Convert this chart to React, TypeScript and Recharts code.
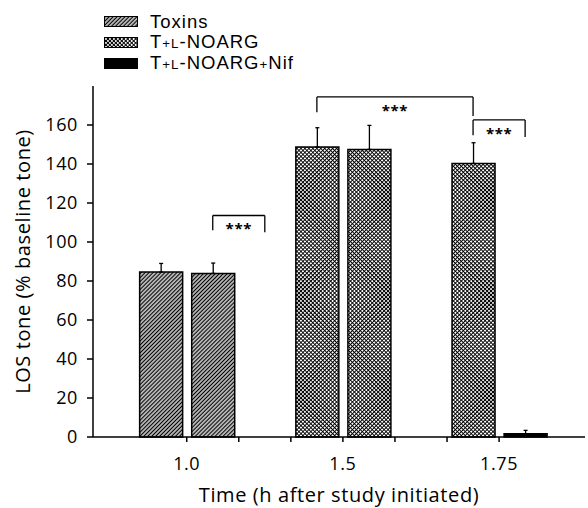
import { BarChart, Bar, XAxis, YAxis, ErrorBar, Cell, Legend, ReferenceLine, Label } from 'recharts'

// time points, and the slot boundary each label sits on
const timeLabels = ['1.0', '1.5', '1.75']
const timeTickSlot = [1, 4, 7]

// eight bar slots, two per time point plus empty gaps
const slotGroup = ['Toxins', 'Toxins', '', 'T+L-NOARG', 'T+L-NOARG', '', 'T+L-NOARG', 'T+L-NOARG+Nif']
const slotMean = [84.6, 83.9, null, 148.7, 147.5, null, 140.3, 1.7]
const slotSem = [4.4, 5.3, null, 9.9, 12.3, null, 10.6, 1.7]

const groups = ['Toxins', 'T+L-NOARG', 'T+L-NOARG+Nif']
const groupFill: Record<string, string> = {
  'Toxins': 'url(#hatch)',
  'T+L-NOARG': 'url(#cross)',
  'T+L-NOARG+Nif': '#000',
}

// significance brackets (slot indices, % tone)
const bracketFrom = [1, 3, 6]
const bracketTo = [2, 6, 7]
const bracketTop = [113.6, 174.4, 162.6]
const bracketLeftEnd = [106, 166.5, 154.8]
const bracketRightEnd = [105, 164.6, 153.9]

const yTicks = [0, 20, 40, 60, 80, 100, 120, 140, 160]

const data = slotMean.map((m, i) => ({
  slot: i + 0.5,
  mean: m,
  err: m == null ? null : [0, slotSem[i] as number],
  group: slotGroup[i],
}))

function GroupName({ name }: { name: string }) {
  const small = { fontSize: '0.72em' }
  if (name === 'Toxins') return <span>Toxins</span>
  if (name === 'T+L-NOARG') return <span>T<span style={small}>+L</span>-NOARG</span>
  return <span>T<span style={small}>+L</span>-NOARG<span style={small}>+</span>Nif</span>
}

function LegendBox() {
  return (
    <div style={{ fontFamily: '"Liberation Sans", Arial, sans-serif', fontSize: 18.5, letterSpacing: '1px', color: '#000', lineHeight: '21px' }}>
      {groups.map((g) => (
        <div key={g} style={{ display: 'flex', alignItems: 'center', height: 21 }}>
          <svg width={34} height={11} style={{ marginRight: 12 }}>
            <rect x={0.5} y={0.5} width={33} height={10} fill={groupFill[g]} stroke="#000" strokeWidth={1} />
          </svg>
          <GroupName name={g} />
        </div>
      ))}
    </div>
  )
}

export default function App() {
  const brackets = bracketFrom.map((f, i) => ({
    x1: f + 0.5,
    x2: bracketTo[i] + 0.5,
    top: bracketTop[i],
    l: bracketLeftEnd[i],
    r: bracketRightEnd[i],
  }))

  return (
    <div style={{ position: 'absolute', left: 0, top: 0, fontFamily: '"Open Sans", sans-serif', letterSpacing: '0.6px', background: '#fff' }}>
      <BarChart width={588} height={508} data={data} margin={{ top: 86, right: 3, bottom: 0, left: 0 }}>
        <defs>
          <pattern id="hatch" patternUnits="userSpaceOnUse" width={2.8} height={2.8} patternTransform="rotate(45)">
            <rect width={2.8} height={2.8} fill="#fff" />
            <line x1={1.4} y1={0} x2={1.4} y2={2.8} stroke="#000" strokeWidth={1.5} />
          </pattern>
          <pattern id="cross" patternUnits="userSpaceOnUse" width={2.8} height={2.8} patternTransform="rotate(45)">
            <rect width={2.8} height={2.8} fill="#fff" />
            <path d="M0,1.4 H2.8 M1.4,0 V2.8" stroke="#000" strokeWidth={0.95} />
          </pattern>
        </defs>
        <XAxis
          dataKey="slot"
          type="number"
          domain={[-0.8, 8.65]}
          allowDataOverflow
          ticks={[1, 2, 3, 4, 5, 6, 7]}
          interval={0}
          tickFormatter={(v: number) => {
            const k = timeTickSlot.indexOf(v)
            return k >= 0 ? timeLabels[k] : ''
          }}
          height={71}
          tickSize={5}
          tickMargin={15}
          stroke="#000"
          strokeWidth={1.5}
          tick={{ fill: '#000', fontSize: 18 }}
        >
          <Label value="Time (h after study initiated)" position="insideBottom" offset={6} fill="#000" fontSize={20} />
        </XAxis>
        <YAxis
          domain={[0, 180]}
          ticks={yTicks}
          interval={0}
          width={93}
          tickSize={6}
          tickMargin={9}
          stroke="#000"
          strokeWidth={1.5}
          tick={{ fill: '#000', fontSize: 18 }}
        >
          <Label
            content={({ viewBox }: any) => {
              const cx = viewBox.x + 22
              const cy = viewBox.y + viewBox.height / 2
              return (
                <text x={cx} y={cy} transform={`rotate(-90 ${cx} ${cy})`} textAnchor="middle" dominantBaseline="central" fontSize={20} fill="#000">
                  LOS tone (% baseline tone)
                </text>
              )
            }}
          />
        </YAxis>
        <Legend
          layout="vertical"
          align="center"
          verticalAlign="middle"
          wrapperStyle={{ left: 104, top: 11 }}
          content={() => <LegendBox />}
        />
        <Bar dataKey="mean" barSize={43} stroke="#000" strokeWidth={1.5} isAnimationActive={false}>
          {data.map((d, i) => (
            <Cell key={i} fill={groupFill[d.group] || 'none'} />
          ))}
          <ErrorBar dataKey="err" direction="y" width={2} stroke="#000" strokeWidth={1.3} isAnimationActive={false} />
        </Bar>
        {brackets.map((b, i) => (
          <ReferenceLine key={'l' + i} segment={[{ x: b.x1, y: b.l }, { x: b.x1, y: b.top }]} stroke="#000" strokeWidth={1.3} ifOverflow="visible" />
        ))}
        {brackets.map((b, i) => (
          <ReferenceLine
            key={'t' + i}
            segment={[{ x: b.x1, y: b.top }, { x: b.x2, y: b.top }]}
            stroke="#000"
            strokeWidth={1.3}
            ifOverflow="visible"
            label={{ value: '***', position: 'bottom', offset: 8, fontSize: 15, fontWeight: 'bold', fill: '#000' }}
          />
        ))}
        {brackets.map((b, i) => (
          <ReferenceLine key={'r' + i} segment={[{ x: b.x2, y: b.top }, { x: b.x2, y: b.r }]} stroke="#000" strokeWidth={1.3} ifOverflow="visible" />
        ))}
      </BarChart>
    </div>
  )
}
